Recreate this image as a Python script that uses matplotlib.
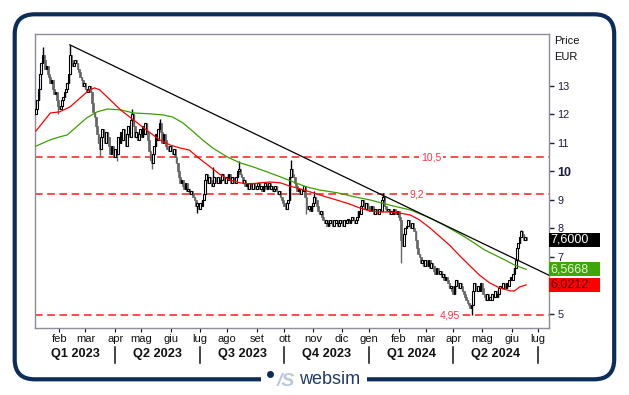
import numpy as np
import matplotlib
matplotlib.use("Agg")
import matplotlib.pyplot as plt
from matplotlib.patches import Rectangle, FancyBboxPatch
from matplotlib.transforms import blended_transform_factory

plt.rcParams['font.family'] = ['Liberation Sans', 'DejaVu Sans']

# daily closes (EUR), one trading day each, from 2023-01-06 to 2024-06-18
start_date = '2023-01-06'
first_open = 12.0
close_prices = [
    12.2, 12.5, 12.9, 13.4, 13.8, 14.1, 13.9, 13.6, 13.7, 13.4,
    13.3, 13.1, 13.2, 12.9, 12.7, 12.8, 12.5, 12.3, 12.2, 12.3,
    12.5, 12.6, 12.8, 12.9, 13.1, 13.4, 14.1, 13.9, 13.7, 13.8,
    13.9, 13.8, 13.6, 13.5, 13.3, 13.2, 13.0, 13.1, 12.9, 12.8,
    12.9, 13.0, 12.8, 12.4, 12.1, 11.9, 11.6, 11.3, 11.0, 10.8,
    11.2, 11.5, 11.3, 11.0, 11.4, 11.2, 10.9, 10.6, 10.9, 10.7,
    10.5, 10.8, 10.6, 11.2, 11.0, 11.4, 11.1, 11.5, 11.2, 10.9,
    11.3, 11.6, 11.2, 11.8, 12.0, 11.6, 11.2, 11.4, 11.1, 11.3,
    11.5, 11.2, 11.6, 11.3, 11.7, 11.4, 11.1, 10.7, 10.4, 10.3,
    10.6, 10.9, 11.3, 11.1, 11.5, 11.7, 11.4, 11.0, 11.3, 11.1,
    10.9, 10.8, 10.7, 10.9, 10.7, 10.6, 10.8, 10.5, 10.3, 10.0,
    9.8, 9.6, 9.7, 9.5, 9.4, 9.6, 9.3, 9.4, 9.2, 9.3,
    9.2, 9.1, 9.0, 8.8, 8.9, 8.7, 8.9, 8.8, 9.0, 9.2,
    9.7, 9.9, 9.6, 9.8, 9.7, 9.5, 9.6, 9.8, 9.7, 9.6,
    9.8, 9.6, 9.7, 9.9, 9.7, 9.6, 9.8, 9.7, 9.9, 9.7,
    9.6, 9.8, 9.7, 9.6, 9.8, 10.0, 10.1, 9.9, 9.8, 9.6,
    9.7, 9.5, 9.6, 9.4, 9.6, 9.5, 9.4, 9.6, 9.5, 9.4,
    9.5, 9.6, 9.4, 9.5, 9.3, 9.5, 9.6, 9.4, 9.5, 9.6,
    9.4, 9.5, 9.3, 9.4, 9.5, 9.3, 9.2, 9.3, 9.1, 9.0,
    8.9, 8.8, 8.7, 8.9, 9.0, 9.8, 10.1, 9.9, 9.8, 9.6,
    9.5, 9.3, 9.4, 9.2, 9.4, 9.3, 9.5, 9.1, 8.8, 8.7,
    8.8, 8.6, 8.8, 8.9, 9.1, 9.0, 8.8, 8.6, 8.5, 8.6,
    8.4, 8.3, 8.2, 8.3, 8.1, 8.2, 8.3, 8.2, 8.1, 8.3,
    8.2, 8.3, 8.1, 8.2, 8.3, 8.2, 8.1, 8.3, 8.2, 8.3,
    8.3, 8.2, 8.3, 8.4, 8.3, 8.2, 8.3, 8.4, 8.6, 8.5,
    8.8, 9.0, 8.9, 8.7, 8.9, 8.8, 8.7, 8.6, 8.8, 8.6,
    8.5, 8.7, 8.6, 8.5, 8.7, 8.6, 9.0, 9.1, 8.8, 8.7,
    8.6, 8.7, 8.5, 8.6, 8.5, 8.7, 8.6, 8.5, 8.6, 8.4,
    8.3, 7.6, 7.4, 7.8, 8.0, 8.1, 8.3, 8.2, 8.0, 8.2,
    8.0, 7.9, 7.6, 7.3, 7.1, 7.0, 6.8, 6.9, 6.7, 6.9,
    6.8, 6.7, 6.9, 6.6, 6.8, 6.7, 6.5, 6.4, 6.6, 6.5,
    6.4, 6.5, 6.3, 6.4, 6.2, 6.3, 6.2, 6.1, 5.9, 6.0,
    5.8, 5.7, 6.0, 6.2, 6.1, 5.9, 6.1, 6.0, 5.8, 5.7,
    5.6, 5.5, 5.4, 5.3, 5.2, 5.3, 5.8, 6.1, 6.0, 5.8,
    6.0, 5.8, 6.1, 5.9, 5.7, 5.6, 5.5, 5.7, 5.5, 5.6,
    5.5, 5.7, 5.6, 5.8, 5.6, 5.7, 5.9, 6.0, 5.9, 6.1,
    6.0, 5.9, 6.1, 6.0, 6.2, 6.3, 6.2, 6.4, 6.6, 6.9,
    7.3, 7.5, 7.7, 7.9, 7.8, 7.6, 7.7, 7.6,
]
# wicks that stick out of the bodies (day index -> price)
spike_high = {5: 14.36, 26: 14.44, 74: 12.2, 95: 11.85, 136: 10.15, 156: 10.35,
              196: 10.4, 214: 9.3, 267: 9.25, 373: 7.95}
spike_low = {17: 12.0, 49: 10.5, 62: 10.35, 89: 10.1, 124: 8.55, 208: 8.5,
             281: 6.8, 335: 4.95}

# moving averages (day index, price)
ma_red_idx = [0, 11, 18, 26, 34, 41, 45, 49, 57, 65, 72, 80, 88, 95, 103, 111, 118,
              124, 134, 141, 149, 157, 165, 172, 180, 188, 195, 203, 211, 218, 226,
              234, 241, 249, 257, 265, 272, 280, 288, 295, 303, 311, 318, 326, 334,
              341, 349, 357, 365, 368, 372, 377]
ma_red = [11.42, 12.05, 12.09, 12.26, 12.58, 12.86, 12.93, 12.86, 12.51, 12.16, 11.91,
          11.63, 11.35, 11.11, 10.93, 10.82, 10.75, 10.51, 10.16, 9.91, 9.70, 9.60,
          9.56, 9.60, 9.63, 9.60, 9.49, 9.39, 9.28, 9.18, 9.07, 8.96, 8.86, 8.72,
          8.61, 8.58, 8.58, 8.54, 8.47, 8.30, 8.02, 7.70, 7.42, 7.04, 6.68, 6.37,
          6.09, 5.91, 5.81, 5.81, 5.95, 6.0212]
ma_green_idx = [0, 11, 18, 24, 31, 39, 47, 55, 65, 75, 88, 98, 105, 113, 121, 128,
                136, 147, 157, 167, 178, 188, 198, 208, 218, 232, 245, 257, 272, 288,
                303, 315, 330, 345, 361, 368, 377]
ma_green = [10.89, 11.11, 11.21, 11.28, 11.56, 11.88, 12.09, 12.19, 12.16, 12.05,
            12.02, 11.98, 11.91, 11.70, 11.39, 11.11, 10.82, 10.51, 10.30, 10.16,
            9.98, 9.81, 9.63, 9.46, 9.35, 9.25, 9.11, 9.00, 8.82, 8.65, 8.37, 8.09,
            7.70, 7.25, 6.89, 6.72, 6.5668]

trend_idx = [26, 394.6]
trend_price = [14.44, 6.36]

levels = [10.5, 9.2, 4.95]
level_labels = ['10,5', '9,2', '4,95']
level_label_idx = [304, 293, 318]

last_values = [7.6, 6.5668, 6.0212]
last_texts = ['7,6000', '6,5668', '6,0212']
last_colors = ['black', '#3fa60a', '#ff0000']
last_text_colors = ['white', '#e4f7d8', '#4a0000']

ytick_vals = [5, 7, 8, 9, 10, 11, 12, 13]
month_starts = ['2023-02-01', '2023-03-01', '2023-04-01', '2023-05-01', '2023-06-01',
                '2023-07-01', '2023-08-01', '2023-09-01', '2023-10-01', '2023-11-01',
                '2023-12-01', '2024-01-01', '2024-02-01', '2024-03-01', '2024-04-01',
                '2024-05-01', '2024-06-01', '2024-07-01']
month_labels = ['feb', 'mar', 'apr', 'mag', 'giu', 'lug', 'ago', 'set', 'ott', 'nov',
                'dic', 'gen', 'feb', 'mar', 'apr', 'mag', 'giu', 'lug']
quarter_starts = ['2023-01-01', '2023-04-01', '2023-07-01', '2023-10-01',
                  '2024-01-01', '2024-04-01', '2024-07-01']
quarter_labels = ['Q1 2023', 'Q2 2023', 'Q3 2023', 'Q4 2023', 'Q1 2024', 'Q2 2024']

navy = '#0c2c5a'
W, H = 629, 395

fig = plt.figure(figsize=(W / 100, H / 100), dpi=100)
ax = fig.add_axes([35 / W, 1 - 328 / H, 514 / W, 294 / H])
bg = fig.add_axes([0, 0, 1, 1], zorder=-1)
bg.set_xlim(0, W)
bg.set_ylim(H, 0)
bg.axis('off')

xmin, xmax = -0.8, 394.6
ax.set_xlim(xmin, xmax)
ax.set_ylim(4.51, 14.82)

# candles
x = np.arange(len(close_prices))
c = np.array(close_prices)
o = np.array([first_open] + close_prices[:-1])
hi = np.maximum(o, c)
lo = np.minimum(o, c)
for k, v in spike_high.items():
    hi[k] = v
for k, v in spike_low.items():
    lo[k] = v
up = c >= o
down_col = '#666666'
ax.vlines(x[up], lo[up], hi[up], color='black', lw=1.0, zorder=2)
ax.vlines(x[~up], lo[~up], hi[~up], color=down_col, lw=1.0, zorder=2)
ax.bar(x[~up], (o - c)[~up], bottom=c[~up], width=1.3,
       color=down_col, edgecolor=down_col, lw=0.5, zorder=3)
ax.bar(x[up], np.maximum(c - o, 0.02)[up], bottom=o[up], width=1.3,
       color='white', edgecolor='black', lw=0.8, zorder=3)

# levels
for lv, lab, li in zip(levels, level_labels, level_label_idx):
    ax.axhline(lv, color='#ff1a1a', lw=1.1, ls=(0, (5, 3)), zorder=1)
    ax.text(li, lv, lab, color='#ff3344', fontsize=7.5, ha='center', va='center',
            bbox=dict(fc='white', ec='none', pad=1.2), zorder=1.5)

ax.plot(ma_green_idx, ma_green, color='#3c9e00', lw=0.9, zorder=4)
ax.plot(ma_red_idx, ma_red, color='#ff0000', lw=0.9, zorder=4)
ax.plot(trend_idx, trend_price, color='black', lw=0.9, zorder=4)

# axes look
for s in ax.spines.values():
    s.set_color('#8c8c9c')
    s.set_linewidth(1.0)

ax.yaxis.tick_right()
ax.set_yticks(ytick_vals, [str(v) for v in ytick_vals])
ax.tick_params(axis='y', length=3.5, width=1, pad=2.5, labelsize=7.8,
               colors='#1c1c3c')
for lab in ax.get_yticklabels():
    if lab.get_text() == '10':
        lab.set_fontweight('bold')
        lab.set_fontsize(9)

month_pos = np.busday_count(start_date, month_starts) + 0.0
ax.set_xticks(month_pos, month_labels)
ax.tick_params(axis='x', length=3, width=0.8, pad=1.5, labelsize=8, colors='#111111')

xtr = ax.get_xaxis_transform()
q_pos = np.busday_count(start_date, quarter_starts) + 0.0
for a, b, lab in zip(q_pos[:-1], q_pos[1:], quarter_labels):
    mid = (max(a, xmin) + b) / 2
    ax.text(mid, -0.0884, lab, transform=xtr, ha='center', va='center',
            fontsize=9.2, fontweight='bold', color='#111111', clip_on=False)
for p in q_pos[1:]:
    ax.plot([p, p], [-0.0646, -0.119], transform=xtr, color='#111111', lw=1.1,
            clip_on=False)

# last value boxes on the right
ytr = blended_transform_factory(ax.transAxes, ax.transData)
box_h = 14 / 28.5
for v, t, bc, tc in zip(last_values, last_texts, last_colors, last_text_colors):
    ax.add_patch(Rectangle((1.0, v - box_h / 2), 51 / 514, box_h, transform=ytr,
                           facecolor=bc, edgecolor='none', clip_on=False, zorder=5))
    ax.text(1.002, v, t, transform=ytr, ha='left', va='center', fontsize=9,
            color=tc, clip_on=False, zorder=6)

bg.text(554, 41, 'Price', fontsize=8, ha='left', va='center', color='#111111')
bg.text(554, 57.5, 'EUR', fontsize=8, ha='left', va='center', color='#111111')

# rounded frame and logo
bg.add_patch(FancyBboxPatch((14.7, 14.3), 599.5, 365,
                            boxstyle='round,pad=0,rounding_size=20',
                            fill=False, edgecolor=navy, lw=3.0))
bg.add_patch(Rectangle((261, 370), 106, 18, facecolor='white', edgecolor='none',
                       zorder=3))
bg.plot(270, 373.5, 'o', ms=4, color=navy, zorder=4)
bg.text(286, 381, '/S', fontsize=14, fontstyle='italic', fontweight='bold',
        color='#b9c9db', ha='center', va='center', zorder=4)
bg.text(299, 380, 'websim', fontsize=13, color='#1e3a68', ha='left', va='center',
        zorder=4)

fig.savefig('out.png', dpi=100)
